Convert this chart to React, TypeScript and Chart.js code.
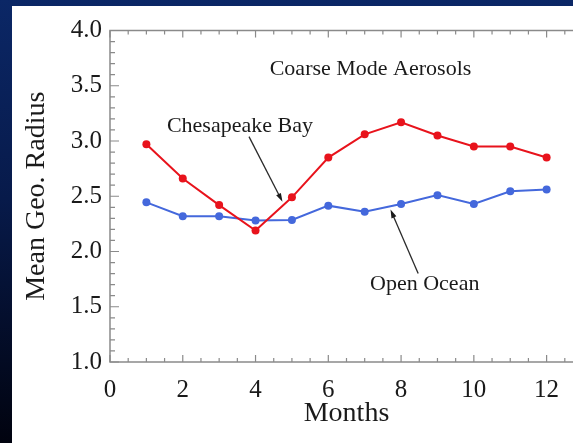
import React, { useEffect, useRef } from "react";
import { Chart, registerables } from "chart.js";

Chart.register(...registerables);

// Monthly mean geometric radius of coarse mode aerosols
const months = [1, 2, 3, 4, 5, 6, 7, 8, 9, 10, 11, 12];
const chesapeakeBay = [2.97, 2.66, 2.42, 2.19, 2.49, 2.85, 3.06, 3.17, 3.05, 2.95, 2.95, 2.85];
const openOcean = [2.445, 2.32, 2.32, 2.28, 2.285, 2.415, 2.36, 2.43, 2.51, 2.43, 2.545, 2.56];

// Labelled tick values
const xTickValues = [0, 2, 4, 6, 8, 10, 12];
const yTickValues = [1.0, 1.5, 2.0, 2.5, 3.0, 3.5, 4.0];

const X_MIN = 0;
const X_MAX = 13;
const Y_MIN = 1.0;
const Y_MAX = 4.0;

const SERIF = "'Liberation Serif', 'Times New Roman', serif";
const AXIS_GREY = "#8a8a8a";
const TEXT = "#1a1a1a";
const RED = "#e8131c";
const BLUE = "#4468dc";

// Boxed frame with inward major/minor tick marks on all four sides
const frameTicks = {
  id: "frameTicks",
  beforeDatasetsDraw(chart: any) {
    const { ctx, chartArea } = chart;
    const xs = chart.scales.x;
    const ys = chart.scales.y;
    const { left, right, top, bottom } = chartArea;
    ctx.save();
    ctx.strokeStyle = AXIS_GREY;
    ctx.lineWidth = 1.5;
    ctx.strokeRect(left, top, right - left, bottom - top);
    ctx.lineWidth = 1.2;
    ctx.beginPath();
    for (let i = Math.round(Y_MIN * 10); i <= Math.round(Y_MAX * 10); i++) {
      const py = ys.getPixelForValue(i / 10);
      const len = i % 5 === 0 ? 9 : 5;
      ctx.moveTo(left, py);
      ctx.lineTo(left + len, py);
      ctx.moveTo(right, py);
      ctx.lineTo(right - len, py);
    }
    for (let i = X_MIN * 2; i <= X_MAX * 2; i++) {
      const px = xs.getPixelForValue(i / 2);
      const len = i % 4 === 0 ? 7 : 4;
      ctx.moveTo(px, bottom);
      ctx.lineTo(px, bottom - len);
      ctx.moveTo(px, top);
      ctx.lineTo(px, top + len);
    }
    ctx.stroke();
    ctx.restore();
  },
};

// Title and the two arrowed series labels, placed in data coordinates
const notes = {
  id: "notes",
  afterDatasetsDraw(chart: any) {
    const { ctx } = chart;
    const xs = chart.scales.x;
    const ys = chart.scales.y;
    const px = (v: number) => xs.getPixelForValue(v);
    const py = (v: number) => ys.getPixelForValue(v);

    const text = (s: string, x: number, y: number) => {
      ctx.fillText(s, px(x), py(y));
    };
    const arrow = (x0: number, y0: number, x1: number, y1: number) => {
      const ax = px(x0), ay = py(y0), bx = px(x1), by = py(y1);
      const ang = Math.atan2(by - ay, bx - ax);
      const head = 9;
      ctx.beginPath();
      ctx.moveTo(ax, ay);
      ctx.lineTo(bx - Math.cos(ang) * 4, by - Math.sin(ang) * 4);
      ctx.stroke();
      ctx.beginPath();
      ctx.moveTo(bx, by);
      ctx.lineTo(bx - head * Math.cos(ang - 0.3), by - head * Math.sin(ang - 0.3));
      ctx.lineTo(bx - head * Math.cos(ang + 0.3), by - head * Math.sin(ang + 0.3));
      ctx.closePath();
      ctx.fill();
    };

    ctx.save();
    ctx.fillStyle = TEXT;
    ctx.strokeStyle = "#2a2a2a";
    ctx.lineWidth = 1.3;
    ctx.textAlign = "center";
    ctx.textBaseline = "middle";
    ctx.font = `22px ${SERIF}`;
    text("Coarse Mode Aerosols", 7.16, 3.65);
    text("Chesapeake Bay", 3.57, 3.13);
    text("Open Ocean", 8.65, 1.7);
    arrow(3.82, 3.04, 4.74, 2.45);
    arrow(8.47, 1.8, 7.71, 2.38);
    ctx.restore();
  },
};

export default function App() {
  const canvasRef = useRef<HTMLCanvasElement | null>(null);

  useEffect(() => {
    const canvas = canvasRef.current;
    if (!canvas) return;
    const chart = new Chart(canvas, {
      type: "line",
      data: {
        datasets: [
          {
            label: "Chesapeake Bay",
            data: months.map((m, i) => ({ x: m, y: chesapeakeBay[i] })),
            borderColor: RED,
            backgroundColor: RED,
            borderWidth: 2,
            pointRadius: 4,
            pointBorderWidth: 0,
            tension: 0,
          },
          {
            label: "Open Ocean",
            data: months.map((m, i) => ({ x: m, y: openOcean[i] })),
            borderColor: BLUE,
            backgroundColor: BLUE,
            borderWidth: 2,
            pointRadius: 4,
            pointBorderWidth: 0,
            tension: 0,
          },
        ],
      },
      options: {
        animation: false,
        responsive: false,
        devicePixelRatio: 1,
        layout: { padding: { left: 10, top: 30.5, right: 17, bottom: 11 } },
        plugins: {
          legend: { display: false },
          tooltip: { enabled: false },
        },
        scales: {
          x: {
            type: "linear",
            min: X_MIN,
            max: X_MAX,
            grid: { display: false, drawTicks: false },
            border: { display: false },
            afterBuildTicks: (scale: any) => {
              scale.ticks = xTickValues.map((v) => ({ value: v }));
            },
            ticks: {
              padding: 13,
              color: TEXT,
              font: { family: SERIF, size: 25 },
              maxRotation: 0,
              autoSkip: false,
              callback: (v: any) => String(v),
            },
            title: {
              display: true,
              text: "Months",
              color: TEXT,
              font: { family: SERIF, size: 28 },
              padding: { top: 0, bottom: 2 },
            },
            afterFit: (scale: any) => {
              scale.height = 70;
            },
          },
          y: {
            min: Y_MIN,
            max: Y_MAX,
            grid: { display: false, drawTicks: false },
            border: { display: false },
            afterBuildTicks: (scale: any) => {
              scale.ticks = yTickValues.map((v) => ({ value: v }));
            },
            ticks: {
              padding: 8,
              color: TEXT,
              font: { family: SERIF, size: 25 },
              autoSkip: false,
              callback: (v: any) => Number(v).toFixed(1),
            },
            title: {
              display: true,
              text: "Mean Geo. Radius",
              color: TEXT,
              font: { family: SERIF, size: 28 },
              padding: { top: 10, bottom: 0 },
            },
            afterFit: (scale: any) => {
              scale.width = 100;
            },
          },
        },
      },
      plugins: [frameTicks, notes],
    });
    return () => chart.destroy();
  }, []);

  return (
    <div
      style={{
        position: "fixed",
        left: 0,
        top: 0,
        width: 573,
        height: 443,
        overflow: "hidden",
        background: "linear-gradient(to bottom, #0b2766 0%, #071a4a 45%, #01030f 100%)",
      }}
    >
      <div
        style={{
          position: "absolute",
          left: 12,
          top: 6,
          width: 640,
          height: 500,
          background: "#ffffff",
        }}
      />
      <canvas
        ref={canvasRef}
        width={600}
        height={443}
        style={{ position: "absolute", left: 0, top: 0, width: 600, height: 443 }}
      />
    </div>
  );
}
